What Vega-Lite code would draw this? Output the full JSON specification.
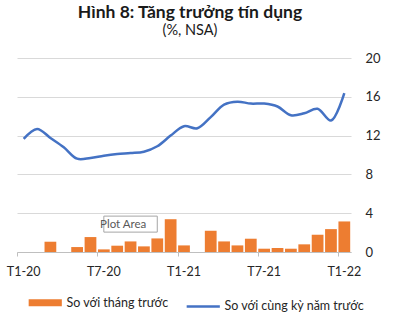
{
  "$schema": "https://vega.github.io/schema/vega-lite/v6.json",
  "autosize": {"type": "none"},
  "width": 334,
  "height": 194,
  "padding": {"left": 17, "top": 58, "right": 50, "bottom": 70},
  "background": "white",
  "title": {
    "text": "Hình 8: Tăng trưởng tín dụng",
    "subtitle": "(%, NSA)",
    "font": "Lato",
    "fontSize": 17.5,
    "fontWeight": "bold",
    "subtitleFont": "Lato",
    "subtitleFontSize": 14.5,
    "color": "#1a1a1a",
    "subtitleColor": "#1a1a1a",
    "anchor": "middle",
    "frame": "group",
    "dx": 6,
    "offset": 15,
    "subtitlePadding": 2
  },
  "config": {"view": {"stroke": null}, "font": "Lato"},
  "data": {
    "values": [
      {"m": "T1-20", "mom": 0, "yoy": 11.66},
      {"m": "T2-20", "mom": 0, "yoy": 12.69},
      {"m": "T3-20", "mom": 1.06, "yoy": 11.76},
      {"m": "T4-20", "mom": 0, "yoy": 10.8},
      {"m": "T5-20", "mom": 0.51, "yoy": 9.62},
      {"m": "T6-20", "mom": 1.54, "yoy": 9.7},
      {"m": "T7-20", "mom": 0.27, "yoy": 9.93},
      {"m": "T8-20", "mom": 0.65, "yoy": 10.1},
      {"m": "T9-20", "mom": 1.09, "yoy": 10.2},
      {"m": "T10-20", "mom": 0.58, "yoy": 10.34},
      {"m": "T11-20", "mom": 1.4, "yoy": 10.9},
      {"m": "T12-20", "mom": 3.38, "yoy": 12.0},
      {"m": "T1-21", "mom": 0.68, "yoy": 12.97},
      {"m": "T2-21", "mom": 0, "yoy": 12.76},
      {"m": "T3-21", "mom": 2.19, "yoy": 13.9},
      {"m": "T4-21", "mom": 1.09, "yoy": 15.2},
      {"m": "T5-21", "mom": 0.68, "yoy": 15.5},
      {"m": "T6-21", "mom": 1.37, "yoy": 15.3},
      {"m": "T7-21", "mom": 0.34, "yoy": 15.3},
      {"m": "T8-21", "mom": 0.41, "yoy": 15.0},
      {"m": "T9-21", "mom": 0.34, "yoy": 14.1},
      {"m": "T10-21", "mom": 0.79, "yoy": 14.3},
      {"m": "T11-21", "mom": 1.78, "yoy": 14.76},
      {"m": "T12-21", "mom": 2.36, "yoy": 13.55},
      {"m": "T1-22", "mom": 3.15, "yoy": 16.38}
    ]
  },
  "encoding": {
    "x": {
      "field": "m",
      "type": "ordinal",
      "sort": null,
      "scale": {"paddingInner": 0.12, "paddingOuter": 0.06},
      "axis": {
        "title": null,
        "labelAngle": 0,
        "labelOverlap": false,
        "labelExpr": "indexof(['T1-20','T7-20','T1-21','T7-21','T1-22'], datum.value) >= 0 ? datum.value : ''",
        "bandPosition": 0,
        "labelFontSize": 12.5,
        "labelColor": "#262626",
        "labelPadding": 9,
        "domainColor": "#bfbfbf",
        "tickColor": "#bfbfbf",
        "tickSize": 4,
        "tickOpacity": {"condition": {"test": "indexof(['T1-20','T7-20','T1-21','T7-21','T1-22'], datum.value) >= 0", "value": 1}, "value": 0}
      }
    }
  },
  "layer": [
    {
      "mark": {"type": "bar"},
      "encoding": {
        "y": {
          "field": "mom",
          "type": "quantitative",
          "scale": {"domain": [0, 20]},
          "axis": {
            "orient": "right",
            "title": null,
            "values": [0, 4, 8, 12, 16, 20],
            "labelOverlap": false,
            "grid": true,
            "gridColor": "#d9d9d9",
            "domain": false,
            "ticks": false,
            "labelPadding": 14,
            "labelFontSize": 13,
            "labelColor": "#262626"
          }
        },
        "color": {
          "datum": "So với tháng trước",
          "type": "nominal",
          "scale": {
            "domain": ["So với tháng trước", "So với cùng kỳ năm trước"],
            "range": ["#ED7D31", "#4472C4"]
          },
          "legend": {
            "orient": "none",
            "legendX": 22,
            "legendY": 238,
            "direction": "horizontal",
            "title": null,
            "symbolType": "stroke",
            "symbolSize": 1100,
            "labelFontSize": 12.5,
            "labelColor": "#262626",
            "labelOffset": 15,
            "columnPadding": 12,
            "encode": {
              "symbols": {
                "update": {
                  "stroke": {"scale": "color", "field": "value"},
                  "strokeWidth": {"signal": "datum.value === 'So với tháng trước' ? 7 : 2.5"}
                }
              }
            }
          }
        }
      }
    },
    {
      "mark": {"type": "line", "interpolate": "catmull-rom", "strokeWidth": 2.5},
      "encoding": {
        "y": {
          "field": "yoy",
          "type": "quantitative",
          "scale": {"domain": [0, 20]},
          "axis": {
            "orient": "right",
            "title": null,
            "values": [0, 4, 8, 12, 16, 20],
            "labelOverlap": false,
            "grid": true,
            "gridColor": "#d9d9d9",
            "domain": false,
            "ticks": false,
            "labelPadding": 14,
            "labelFontSize": 13,
            "labelColor": "#262626"
          }
        },
        "color": {"datum": "So với cùng kỳ năm trước", "type": "nominal"}
      }
    },
    {
      "data": {"values": [{"a": "T7-20", "b": "T11-20", "y1": 2.05, "y2": 3.7}]},
      "mark": {"type": "rect", "fill": "white", "stroke": "#a6a6a6", "strokeWidth": 1},
      "encoding": {
        "x": {"field": "a", "type": "ordinal", "sort": null},
        "x2": {"field": "b"},
        "y": {
          "field": "y1",
          "type": "quantitative",
          "scale": {"domain": [0, 20]},
          "axis": {
            "orient": "right",
            "title": null,
            "values": [0, 4, 8, 12, 16, 20],
            "labelOverlap": false,
            "grid": true,
            "gridColor": "#d9d9d9",
            "domain": false,
            "ticks": false,
            "labelPadding": 14,
            "labelFontSize": 13,
            "labelColor": "#262626"
          }
        },
        "y2": {"field": "y2"}
      }
    },
    {
      "data": {"values": [{"m": "T8-20", "y": 2.8, "t": "Plot Area"}]},
      "mark": {"type": "text", "fontSize": 11.5, "color": "#595959", "dx": 6, "font": "Lato"},
      "encoding": {
        "y": {
          "field": "y",
          "type": "quantitative",
          "scale": {"domain": [0, 20]},
          "axis": {
            "orient": "right",
            "title": null,
            "values": [0, 4, 8, 12, 16, 20],
            "labelOverlap": false,
            "grid": true,
            "gridColor": "#d9d9d9",
            "domain": false,
            "ticks": false,
            "labelPadding": 14,
            "labelFontSize": 13,
            "labelColor": "#262626"
          }
        },
        "text": {"field": "t"}
      }
    }
  ]
}
